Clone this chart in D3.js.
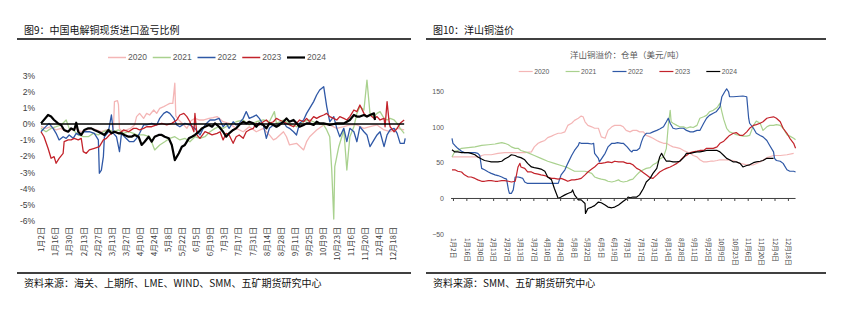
<!DOCTYPE html>
<html><head><meta charset="utf-8">
<script src="https://cdn.jsdelivr.net/npm/d3@7"></script>
<style>
body{margin:0;background:#fff}
svg{display:block}
text{font-family:"Liberation Sans","Noto Sans CJK SC",sans-serif}
.cjk{font-family:"Noto Sans CJK SC","Liberation Sans",sans-serif}
</style>
</head><body><svg id="c" width="844" height="322"></svg>
<script>
// ---------- shared ----------
const years = ["2020","2021","2022","2023","2024"];
const colors = ["#f4b6b6","#a9d18e","#2f58a6","#c3232b","#000000"];
const tickDays = [1,15,29,43,57,71,85,99,113,127,141,155,169,183,197,211,225,239,253,267,281,295,309,323,337,351];
const tickLabels = ["1月2日","1月16日","1月30日","2月13日","2月27日","3月13日","3月27日","4月10日","4月24日","5月8日","5月22日","6月5日","6月19日","7月3日","7月17日","7月31日","8月14日","8月28日","9月11日","9月25日","10月9日","10月23日","11月6日","11月20日","12月4日","12月18日"];

// ---------- chart 9: import profit ratio (%), [day, value] ----------
const leftTicks = [3,2,1,0,-1,-2,-3,-4,-5,-6];
const imp2020 = [[1,-0.17],[6,-0.27],[11,-0.17],[16,-0.37],[21,-0.27],[26,-0.48],[31,-0.37],[36,-0.27],[41,-0.48],[46,-0.37],[51,-0.27],[56,-0.37],[61,-0.48],[66,-0.37],[70,-0.58],[73,-0.27],[74,1.39],[77,1.45],[78,1.2],[79,-0.3],[82,-0.48],[86,-0.37],[90,-0.27],[94,-0.06],[96,0.46],[99,0.66],[103,0.35],[106,0.66],[109,0.56],[113,0.87],[116,0.66],[119,0.97],[123,1.08],[126,1.18],[129,1.28],[132,1.28],[134,2.53],[135,0.5],[138,0.25],[143,-0.06],[146,-0.27],[150,0.2],[154,0.35],[158,0.25],[163,0.25],[168,0.35],[172,0.4],[176,0.46],[182,0.14],[188,0.04],[195,-0.27],[202,-0.48],[208,-0.17],[215,-0.48],[222,-0.27],[228,-0.68],[232,-0.99],[235,-0.89],[242,-0.48],[245,-0.79],[248,-1.30],[255,-1.20],[262,-1.61],[265,-1.10],[268,-0.79],[275,-0.37],[282,-0.06],[288,-0.06],[295,-0.27],[302,-0.17],[308,-0.06],[315,-0.06],[322,-0.27],[328,-0.17],[335,-0.06],[342,-0.37],[348,-0.48],[355,-0.27],[362,-0.37]];
const imp2021 = [[1,-0.27],[6,-0.48],[11,-0.27],[16,-0.17],[21,-0.06],[26,0.25],[29,-0.27],[33,-0.37],[38,-0.68],[43,-0.79],[48,-0.79],[53,-0.58],[58,-0.68],[63,-0.48],[68,-0.37],[73,-0.48],[78,-0.37],[83,-0.58],[88,-0.48],[93,-0.58],[96,-0.68],[103,-0.68],[109,-0.79],[114,-1.61],[119,-1.30],[124,-1.10],[129,-0.89],[134,-0.79],[139,-0.99],[144,-0.89],[149,-1.10],[154,-0.79],[159,-0.89],[164,-0.79],[169,-0.48],[174,-0.27],[178,-0.17],[182,-0.27],[188,-0.06],[195,0.14],[202,0.25],[208,-0.06],[215,0.14],[222,0.25],[228,0.14],[233,0.77],[235,0.04],[242,0.25],[248,0.04],[255,-0.17],[262,0.14],[268,0.25],[275,0.04],[282,-0.06],[285,-0.37],[288,-0.79],[290,-2.86],[292,-5.9],[293,-2.65],[297,-1.41],[300,-0.79],[302,-0.37],[305,-2.86],[308,-0.79],[312,-0.17],[315,0.66],[318,1.08],[322,0.87],[325,2.73],[328,0.66],[332,0.46],[335,0.66],[338,0.77],[342,0.35],[345,0.25],[348,0.35],[352,0.25],[355,0.04],[358,-0.27],[362,-0.58]];
const imp2022 = [[1,-0.48],[4,-0.27],[9,0.04],[13,-0.27],[16,-0.58],[19,-0.99],[23,-0.79],[26,-0.89],[29,-0.68],[33,-0.89],[36,-0.58],[39,-0.68],[44,-0.48],[49,-0.48],[54,-0.58],[58,-0.99],[59,-3.06],[61,-2.86],[63,-2.03],[64,-0.79],[68,-0.48],[71,0.56],[73,-0.58],[76,-0.79],[79,-1.72],[81,-0.58],[84,-0.79],[89,-1.10],[93,-1.10],[96,-0.89],[99,-0.58],[103,-0.06],[106,-0.06],[111,0.04],[116,-0.06],[119,0.35],[123,0.66],[126,0.77],[129,0.66],[133,0.35],[136,-0.06],[139,-0.17],[144,0.04],[149,-0.06],[154,-0.27],[159,-0.68],[164,-0.06],[169,0.25],[174,0.25],[178,0.35],[182,-0.17],[185,0.04],[188,-0.27],[192,0.14],[195,-0.06],[198,0.04],[202,0.35],[205,0.77],[208,0.35],[212,0.46],[215,0.56],[218,0.35],[222,-0.06],[225,-0.89],[228,-0.27],[232,-0.06],[235,-0.17],[238,0.04],[242,0.14],[245,-0.17],[248,-0.27],[252,-0.48],[255,-0.68],[258,0.04],[262,0.25],[265,0.66],[268,0.97],[272,1.39],[275,1.80],[278,2.11],[282,2.32],[285,1.08],[288,0.14],[292,0.46],[295,-0.27],[298,-0.79],[302,-0.27],[305,-1.10],[308,-0.27],[312,-0.48],[315,-1.10],[318,-0.17],[322,-0.48],[325,-0.68],[328,-1.41],[332,-0.99],[335,-0.68],[338,-0.48],[342,-1.41],[345,-0.68],[348,-0.37],[352,-0.27],[355,-0.58],[358,-1.20],[362,-1.20],[363,-0.89]];
const imp2023 = [[1,-0.48],[4,-0.79],[8,-1.51],[11,-2.13],[14,-2.03],[16,-2.44],[19,-2.13],[23,-1.82],[24,-1.10],[28,-0.99],[31,-0.99],[34,-0.89],[38,-0.99],[41,-0.89],[43,-1.72],[46,-1.82],[49,-1.61],[54,-1.51],[59,-1.41],[63,-0.99],[66,-0.89],[69,-0.68],[74,-0.48],[79,-0.58],[83,-0.37],[88,-0.48],[93,-0.27],[96,-0.27],[99,-0.37],[103,-0.27],[106,-0.17],[111,-0.17],[116,-0.06],[121,0.04],[126,-0.06],[131,0.04],[136,0.25],[139,0.56],[143,0.66],[146,0.46],[149,0.14],[153,-0.48],[154,0.66],[156,-0.68],[159,-0.89],[164,-0.48],[168,-0.58],[171,-0.68],[176,-0.58],[179,-0.48],[182,-0.99],[185,-0.58],[188,-0.68],[192,-1.20],[195,-0.79],[198,-0.68],[202,-0.89],[205,-0.48],[208,-0.37],[212,-0.27],[215,0.04],[218,-0.06],[222,0.14],[225,0.25],[228,0.04],[232,0.14],[235,0.35],[238,0.25],[242,0.14],[245,0.04],[248,-0.06],[252,-0.17],[255,0.04],[258,0.25],[262,0.14],[265,0.35],[268,0.14],[272,0.46],[275,0.35],[278,0.46],[282,0.56],[285,0.66],[288,0.46],[292,0.35],[295,0.25],[298,0.46],[302,0.35],[305,0.25],[308,0.46],[312,0.87],[315,0.77],[318,1.18],[322,0.66],[325,0.46],[328,0.56],[332,0.35],[335,0.46],[338,0.25],[342,0.35],[343,-0.17],[345,1.39],[347,0.14],[348,-0.17],[352,-0.48],[355,-0.27],[358,0.04],[362,0.25]];
const imp2024 = [[1,0.04],[8,0.56],[11,0.46],[14,0.25],[18,0.04],[21,-0.06],[24,-0.37],[28,-0.48],[31,-0.27],[34,-0.37],[36,0.08],[38,-0.48],[41,-0.68],[44,-0.37],[48,-0.27],[51,-0.27],[54,-0.37],[58,-0.48],[61,-0.58],[64,-0.68],[68,-0.37],[71,-0.58],[74,-0.48],[78,-0.58],[81,-0.58],[84,-0.68],[88,-0.79],[91,-0.79],[94,-0.68],[98,-0.79],[101,-1.30],[104,-1.10],[108,-0.79],[111,-1.10],[114,-0.79],[118,-0.68],[121,-0.68],[124,-0.79],[128,-0.89],[131,-1.30],[134,-2.24],[138,-1.82],[141,-1.41],[144,-1.30],[148,-0.89],[151,-0.79],[154,-0.68],[158,-0.48],[161,-0.27],[164,-0.17],[168,-0.06],[171,-0.17],[174,0.04],[178,-0.17],[182,-0.48],[185,-0.79],[188,-0.58],[192,-0.37],[195,-0.27],[198,-0.06],[202,0.14],[205,0.04],[208,0.14],[212,0.04],[215,-0.17],[218,0.04],[222,-0.06],[225,-0.27],[228,0.04],[232,-0.06],[235,-0.17],[238,-0.06],[242,0.14],[245,0.35],[248,0.14],[252,0.25],[255,0.04],[258,-0.17],[262,-0.06],[265,0.04],[268,0.04],[272,-0.06],[275,0.14],[278,0.04],[282,0.04],[285,0],[288,-0.06],[292,0],[295,0.04],[298,0.04],[302,0.04],[305,0.14],[308,0.25],[312,0.56],[315,0.46],[318,0.46],[322,0.56],[325,0.46],[328,0.56],[332,0.66],[333,0.25]];

// ---------- chart 10: Yangshan premium (USD/t), [day, value] ----------
const rightTicks = [150,100,50,0,-50];
const ys2020 = [[0,58],[10,58],[27,58],[29,58],[31,60],[34,61],[41,61],[48,63],[55,64],[62,64],[69,64],[76,64],[83,65],[86,72],[90,77],[93,79],[97,81],[100,85],[104,87],[107,89],[111,91],[114,91],[118,93],[121,102],[125,105],[128,109],[132,112],[135,115],[137,114],[139,107],[142,102],[146,100],[149,98],[153,98],[156,86],[160,84],[163,95],[167,100],[170,102],[174,102],[176,102],[179,100],[182,95],[186,93],[189,95],[193,95],[196,93],[200,93],[203,88],[207,86],[210,84],[214,81],[217,79],[221,77],[224,77],[228,74],[231,72],[235,71],[238,70],[242,67],[245,65],[249,63],[252,60],[256,58],[259,54],[263,51],[266,51],[270,52],[273,52],[277,53],[280,54],[287,54],[294,53],[301,49],[308,47],[315,47],[322,51],[329,57],[336,60],[343,60],[350,61],[357,63]];
const ys2021 = [[0,58],[3,66],[6,67],[10,70],[17,71],[24,72],[31,74],[38,75],[45,76],[48,77],[52,78],[55,77],[59,75],[62,72],[66,70],[69,70],[72,67],[79,64],[86,60],[93,56],[100,52],[107,49],[114,46],[121,43],[125,40],[128,38],[132,38],[135,38],[139,38],[142,37],[146,35],[149,30],[153,28],[156,27],[160,26],[163,24],[167,23],[170,24],[174,26],[176,24],[179,23],[183,24],[186,26],[189,27],[193,33],[196,37],[200,40],[203,42],[207,43],[210,47],[214,50],[217,55],[221,58],[224,70],[226,102],[228,123],[229,107],[231,105],[235,102],[238,100],[242,100],[245,98],[249,100],[252,99],[256,102],[259,112],[263,114],[266,116],[269,121],[273,123],[277,127],[280,133],[282,121],[284,110],[287,98],[290,93],[294,91],[297,89],[301,88],[304,87],[308,87],[311,88],[315,102],[318,108],[322,105],[325,95],[329,100],[332,102],[336,102],[339,103],[343,102],[346,98],[350,89],[353,87],[357,84],[359,82]];
const ys2022 = [[0,84],[1,77],[3,74],[6,70],[10,66],[13,64],[17,64],[20,64],[24,64],[27,63],[29,60],[31,42],[34,40],[38,37],[41,35],[45,33],[48,32],[52,30],[55,28],[57,27],[59,12],[60,7],[62,7],[64,12],[66,30],[69,30],[72,29],[74,28],[76,23],[79,21],[83,21],[93,21],[111,21],[114,33],[118,40],[121,49],[125,60],[128,67],[132,74],[133,78],[135,77],[142,77],[146,76],[148,77],[149,63],[153,56],[154,51],[156,55],[160,63],[163,72],[167,77],[170,77],[173,78],[177,77],[179,77],[183,72],[186,67],[188,65],[189,67],[193,67],[196,70],[198,79],[200,86],[203,91],[207,91],[210,93],[214,95],[217,97],[221,100],[224,107],[226,112],[228,105],[231,98],[234,97],[238,98],[242,98],[245,95],[249,93],[252,93],[256,95],[259,95],[263,105],[266,112],[269,116],[273,119],[276,121],[280,128],[282,142],[285,149],[287,153],[289,149],[290,142],[294,142],[304,143],[308,142],[310,112],[311,105],[315,98],[318,91],[322,88],[325,86],[329,81],[332,74],[336,65],[337,56],[339,53],[343,52],[346,49],[350,40],[353,38],[357,38],[359,37]];
const ys2023 = [[0,40],[3,40],[6,38],[10,37],[13,33],[17,30],[20,30],[24,28],[27,26],[31,24],[34,24],[38,25],[41,25],[45,24],[48,24],[52,25],[55,25],[59,24],[62,23],[66,24],[67,30],[69,44],[71,49],[72,44],[76,42],[79,37],[83,37],[86,35],[90,34],[93,33],[97,32],[100,30],[104,28],[107,28],[111,27],[114,28],[118,26],[121,24],[125,26],[128,26],[132,27],[135,28],[139,33],[142,37],[146,41],[149,44],[153,49],[156,49],[160,50],[163,51],[167,50],[170,52],[174,51],[176,51],[179,51],[183,49],[186,49],[189,47],[193,42],[196,40],[200,36],[203,33],[207,29],[210,28],[214,33],[217,37],[221,40],[224,42],[228,44],[231,46],[235,49],[238,52],[242,58],[245,60],[249,64],[252,65],[256,66],[259,67],[263,67],[266,70],[270,70],[273,70],[277,72],[280,77],[284,80],[287,84],[290,88],[294,91],[297,92],[301,88],[304,88],[308,93],[311,98],[315,102],[318,103],[322,105],[325,107],[329,112],[332,113],[336,114],[339,112],[343,107],[346,98],[350,91],[353,84],[357,77],[359,70]];
const ys2024 = [[0,68],[3,65],[6,65],[10,64],[13,64],[17,64],[20,63],[24,61],[27,58],[31,55],[34,53],[38,52],[41,51],[45,51],[48,51],[52,52],[55,55],[59,58],[62,61],[66,60],[69,58],[72,57],[76,54],[79,49],[83,44],[86,43],[90,42],[93,41],[97,38],[100,30],[104,26],[107,14],[109,7],[111,0],[114,2],[118,5],[121,7],[125,9],[126,12],[128,5],[132,-2],[135,-2],[139,-7],[139.5,-21],[142,-14],[146,-12],[149,-10],[153,-5],[156,-6],[160,-9],[163,-12],[167,-13],[170,-12],[174,-9],[176,-7],[179,-4],[183,0],[184,2],[186,1],[189,2],[193,2],[196,5],[200,14],[203,23],[207,28],[210,35],[214,42],[217,58],[219,63],[221,58],[224,52],[228,52],[231,51],[235,51],[238,52],[242,57],[245,63],[249,63],[252,64],[256,65],[259,65],[263,66],[266,67],[270,67],[273,67],[277,67],[280,65],[284,60],[287,56],[290,54],[294,51],[297,51],[301,49],[304,44],[308,46],[311,47],[315,50],[318,51],[322,52],[325,53],[329,56],[332,56],[336,56]];

const svg = d3.select("#c");

// ---------- frames / titles ----------
function frame(x0, x1, title, source){
  svg.append("text").attr("class","cjk").attr("x",x0+7).attr("y",33.5).attr("font-size",10).attr("fill","#111").text(title);
  svg.append("line").attr("x1",x0).attr("x2",x1).attr("y1",39).attr("y2",39).attr("stroke","#000").attr("stroke-width",1.3);
  svg.append("line").attr("x1",x0).attr("x2",x1).attr("y1",273).attr("y2",273).attr("stroke","#000").attr("stroke-width",1.3);
  svg.append("text").attr("class","cjk").attr("x",x0+7).attr("y",286.5).attr("font-size",10).attr("fill","#111").text(source);
}
frame(17, 411, "图9：中国电解铜现货进口盈亏比例", "资料来源：海关、上期所、LME、WIND、SMM、五矿期货研究中心");
frame(426, 826, "图10：洋山铜溢价", "资料来源：SMM、五矿期货研究中心");

// ---------- left chart ----------
const lx = d3.scaleLinear().domain([0,365]).range([40,407.2]);
const ly = d3.scaleLinear().domain([-6,3]).range([220.6,75.7]);
const L = svg.append("g");

const lyAxis = L.append("g").attr("transform",`translate(${lx(0)},0)`)
  .call(d3.axisLeft(ly).tickValues(leftTicks).tickFormat(d=>d+"%").tickSize(0).tickPadding(5));
lyAxis.select(".domain").remove();
lyAxis.selectAll("text").attr("font-size",8.5).attr("fill","#404040").attr("font-family","Liberation Sans, sans-serif");

const lxAxis = L.append("g").attr("transform","translate(0,224)")
  .call(d3.axisBottom(lx).tickValues(tickDays).tickFormat((d,i)=>tickLabels[i]).tickSize(0));
lxAxis.select(".domain").remove();
lxAxis.selectAll("text").attr("class","cjk").attr("font-size",8).attr("fill","#404040")
  .attr("transform","rotate(-90)").attr("x",-3).attr("y",0).attr("dy","0.35em").attr("text-anchor","end");

const lLine = d3.line().x(d=>lx(d[0])).y(d=>ly(d[1]));
const leftSeries = [imp2020, imp2021, imp2022, imp2023, imp2024];
leftSeries.forEach((s,i)=>{
  L.append("path").datum(s).attr("d",lLine).attr("fill","none")
   .attr("stroke",colors[i]).attr("stroke-width", i===4?2.2:1.3).attr("stroke-linejoin","round");
});
// zero line
L.append("line").attr("x1",lx(1)).attr("x2",lx(362)).attr("y1",ly(0)).attr("y2",ly(0))
  .attr("stroke","#000").attr("stroke-width",1.3);

// left legend
const lLeg = L.append("g");
years.forEach((y,i)=>{
  const x0 = 108 + i*44.75;
  lLeg.append("line").attr("x1",x0).attr("x2",x0+18).attr("y1",57.5).attr("y2",57.5)
    .attr("stroke",colors[i]).attr("stroke-width", i===4?2.2:1.5);
  lLeg.append("text").attr("x",x0+20).attr("y",60.3).attr("font-size",8.5).attr("fill","#595959").text(y);
});

// ---------- right chart ----------
const rx = d3.scaleLinear().domain([0,365]).range([452,801.3]);
const ry = d3.scaleLinear().domain([-50,150]).range([234.3,91]);
const R = svg.append("g");

const ryAxis = R.append("g").attr("transform",`translate(448,0)`)
  .call(d3.axisLeft(ry).tickValues(rightTicks).tickSize(0).tickPadding(4));
ryAxis.select(".domain").remove();
ryAxis.selectAll("text").attr("font-size",7).attr("fill","#595959");

const rLine = d3.line().x(d=>rx(d[0])).y(d=>ry(d[1]));
const rightSeries = [ys2020, ys2021, ys2022, ys2023, ys2024];
rightSeries.forEach((s,i)=>{
  R.append("path").datum(s).attr("d",rLine).attr("fill","none")
   .attr("stroke",colors[i]).attr("stroke-width",1.2).attr("stroke-linejoin","round");
});

const rxAxis = R.append("g").attr("transform",`translate(0,${ry(0)})`)
  .call(d3.axisBottom(rx).tickValues(tickDays).tickFormat((d,i)=>tickLabels[i]).tickSize(2.5));
rxAxis.select(".domain").remove();
rxAxis.selectAll(".tick line").attr("stroke","#404040");
rxAxis.selectAll("text").attr("class","cjk").attr("font-size",6.5).attr("fill","#404040")
  .attr("transform","rotate(90)").attr("x",39.5).attr("y",0).attr("dy","0.35em").attr("text-anchor","start");
R.append("line").attr("x1",rx(-1)).attr("x2",rx(359)).attr("y1",ry(0)).attr("y2",ry(0))
  .attr("stroke","#404040").attr("stroke-width",1);

// right chart title & legend
R.append("text").attr("class","cjk").attr("x",627).attr("y",58).attr("text-anchor","middle")
  .attr("font-size",8.5).attr("fill","#595959").text("洋山铜溢价：仓单（美元/吨）");
const rLeg = R.append("g");
years.forEach((y,i)=>{
  const x0 = 518.7 + i*46.9;
  rLeg.append("line").attr("x1",x0).attr("x2",x0+14).attr("y1",71.5).attr("y2",71.5)
    .attr("stroke",colors[i]).attr("stroke-width",1.2);
  rLeg.append("text").attr("x",x0+15.5).attr("y",73.8).attr("font-size",6.8).attr("fill","#595959").text(y);
});
</script>
</body></html>
